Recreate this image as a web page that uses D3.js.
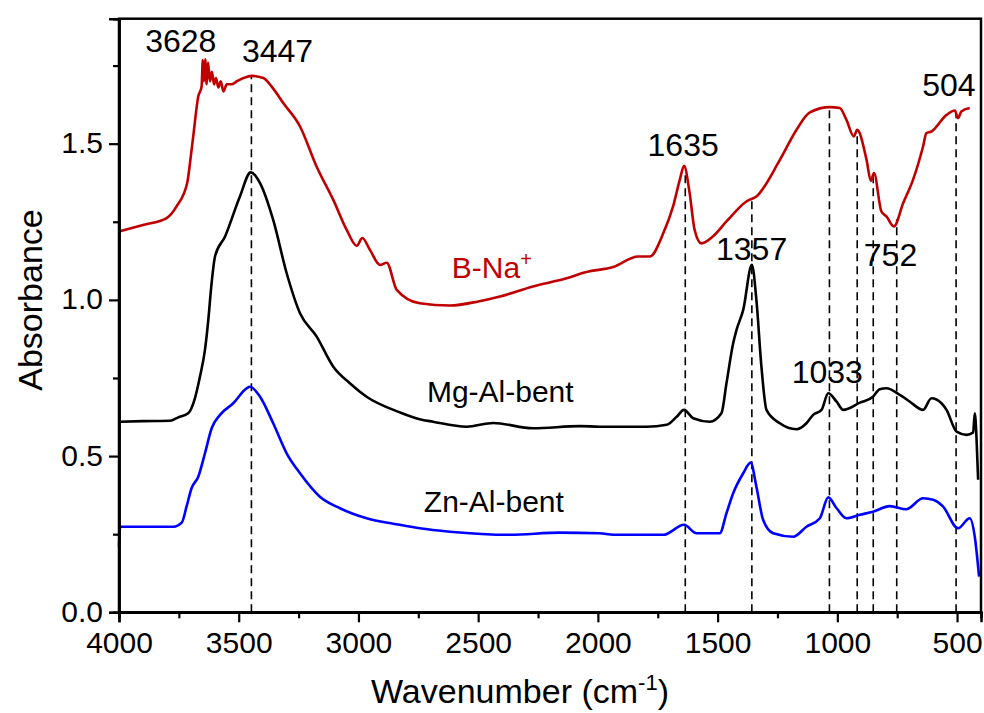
<!DOCTYPE html>
<html>
<head>
<meta charset="utf-8">
<script src="https://cdn.jsdelivr.net/npm/d3@7"></script>
<style>
  html, body { margin: 0; padding: 0; background: #fff; }
  svg text { font-family: Arial, "Liberation Sans", sans-serif; }
</style>
</head>
<body>
<svg id="chart" width="984" height="713"></svg>
<script>
// ---------- DATA ----------
const redName = "B-Na";
const blackName = "Mg-Al-bent";
const blueName = "Zn-Al-bent";

// B-Na+ spectrum: [wavenumber, absorbance]
const redData = [
  [4000,1.219],[3900,1.240],[3801,1.262],[3759,1.300],[3715,1.375],[3700,1.46],[3690,1.523],
  [3669,1.651],[3655,1.683],[3650,1.768],[3645,1.70],[3640,1.77],[3634,1.69],[3628,1.76],
  [3620,1.70],[3612,1.73],[3603,1.69],[3595,1.71],[3585,1.68],[3575,1.70],[3564,1.667],
  [3550,1.69],[3530,1.69],[3509,1.699],[3480,1.71],[3446,1.717],[3397,1.710],[3360,1.68],
  [3314,1.630],[3244,1.555],[3175,1.427],[3105,1.320],[3049,1.224],[3007,1.173],[2984,1.198],
  [2952,1.160],[2910,1.112],[2882,1.119],[2840,1.032],[2744,0.989],[2618,0.982],[2500,0.995],
  [2409,1.011],[2271,1.043],[2131,1.069],[2048,1.089],[1936,1.105],[1832,1.139],[1783,1.139],
  [1727,1.213],[1686,1.299],[1658,1.384],[1640,1.429],[1617,1.343],[1596,1.224],[1568,1.181],
  [1520,1.203],[1463,1.251],[1380,1.315],[1338,1.331],[1240,1.448],[1171,1.544],[1115,1.600],
  [1031,1.617],[990,1.614],[962,1.576],[931,1.523],[917,1.544],[878,1.448],[860,1.381],
  [847,1.406],[816,1.283],[795,1.267],[764,1.235],[725,1.310],[684,1.384],[642,1.491],
  [628,1.534],[607,1.539],[544,1.592],[509,1.606],[496,1.582],[482,1.603],[447,1.614]
];

// Mg-Al-bent spectrum
const blackData = [
  [3996,0.610],[3900,0.612],[3787,0.613],[3752,0.624],[3711,0.637],[3683,0.685],[3662,0.754],
  [3641,0.840],[3627,0.936],[3615,1.04],[3599,1.139],[3557,1.203],[3495,1.331],[3450,1.408],
  [3411,1.374],[3356,1.256],[3300,1.086],[3244,0.957],[3175,0.883],[3105,0.786],[3036,0.733],
  [2966,0.690],[2827,0.640],[2744,0.618],[2689,0.610],[2548,0.594],[2437,0.606],[2271,0.589],
  [2075,0.596],[1992,0.594],[1797,0.594],[1713,0.600],[1671,0.626],[1640,0.648],[1602,0.621],
  [1533,0.610],[1484,0.637],[1463,0.733],[1435,0.861],[1421,0.904],[1393,0.968],[1357,1.112],
  [1338,1.00],[1317,0.786],[1296,0.648],[1240,0.605],[1171,0.586],[1129,0.605],[1101,0.632],
  [1066,0.648],[1038,0.701],[1003,0.674],[975,0.648],[906,0.671],[851,0.690],[823,0.714],
  [795,0.717],[739,0.696],[697,0.674],[642,0.648],[607,0.685],[565,0.669],[544,0.648],
  [502,0.578],[461,0.568],[433,0.575],[426,0.637],[419,0.562],[412,0.424]
];

// Zn-Al-bent spectrum
const blueData = [
  [4000,0.210],[3995,0.274],[3773,0.274],[3738,0.287],[3718,0.338],[3697,0.397],[3669,0.434],
  [3641,0.509],[3613,0.589],[3578,0.632],[3523,0.669],[3467,0.717],[3453,0.722],[3411,0.690],
  [3356,0.605],[3300,0.509],[3244,0.445],[3161,0.370],[3077,0.333],[2966,0.301],[2827,0.280],
  [2744,0.269],[2618,0.258],[2368,0.248],[2159,0.255],[1992,0.253],[1936,0.248],[1727,0.248],
  [1640,0.280],[1588,0.253],[1491,0.253],[1463,0.317],[1435,0.381],[1393,0.445],[1362,0.479],
  [1338,0.402],[1310,0.296],[1268,0.253],[1184,0.242],[1129,0.274],[1073,0.301],[1038,0.368],
  [1003,0.333],[962,0.301],[906,0.312],[851,0.322],[781,0.340],[712,0.330],[642,0.365],
  [600,0.360],[558,0.338],[496,0.269],[447,0.301],[426,0.242],[408,0.114]
];

// Marked band positions (dashed guide lines)
const bandLines = [3447, 1635, 1357, 1033, 917, 850, 752, 504];

// Peak annotations: [text, wavenumber (label centre), absorbance (baseline)]
const peakLabels = [
  ["3628", 3742, 1.794], ["3447", 3338, 1.763], ["1635", 1644, 1.459],
  ["1357", 1358, 1.128], ["752", 778, 1.109], ["504", 534, 1.653], ["1033", 1042, 0.735]
];

const xTicks = [4000, 3500, 3000, 2500, 2000, 1500, 1000, 500];
const yTicks = [0.0, 0.5, 1.0, 1.5];

// ---------- LAYOUT ----------
const svg = d3.select("#chart");
const L = 119, R = 981, T = 18.7, B = 612.3;
const x = d3.scaleLinear().domain([4000, 400]).range([L, R]);
const y = d3.scaleLinear().domain([0, 1.9]).range([B, T]);

const red = "#c00000", blue = "#0000ff", black = "#000000";

// dashed guide lines from axis to red curve
const redInterp = w => {
  const asc = redData.slice().sort((a, b) => a[0] - b[0]);
  for (let i = 0; i < asc.length - 1; i++) {
    if (w >= asc[i][0] && w <= asc[i + 1][0]) {
      const t = (w - asc[i][0]) / (asc[i + 1][0] - asc[i][0]);
      return asc[i][1] + t * (asc[i + 1][1] - asc[i][1]);
    }
  }
  return asc[asc.length - 1][1];
};

svg.append("g").selectAll("line").data(bandLines).join("line")
  .attr("x1", d => x(d)).attr("x2", d => x(d))
  .attr("y1", y(0)).attr("y2", d => y(redInterp(d)))
  .attr("stroke", "#000").attr("stroke-width", 1.6)
  .attr("stroke-dasharray", "8,5");

// curves
const line = d3.line().x(d => x(d[0])).y(d => y(d[1])).curve(d3.curveMonotoneX);
const series = [[blueData, blue], [blackData, black], [redData, red]];
svg.append("g").selectAll("path").data(series).join("path")
  .attr("d", d => line(d[0]))
  .attr("fill", "none").attr("stroke", d => d[1])
  .attr("stroke-width", 2.6).attr("stroke-linejoin", "round");

// frame
svg.append("rect").attr("x", L).attr("y", T).attr("width", R - L).attr("height", B - T)
  .attr("fill", "none").attr("stroke", "#000").attr("stroke-width", 2.5);

// axes
const xMinor = d3.range(3750, 400, -500);
const yMinor = [0.25, 0.75, 1.25, 1.75];

const xAxis = svg.append("g").attr("transform", `translate(0,${B})`);
xAxis.call(d3.axisBottom(x).tickValues(xTicks).tickFormat(d3.format("d")).tickSize(10).tickPadding(9));
const xAxisMinor = svg.append("g").attr("transform", `translate(0,${B})`);
xAxisMinor.call(d3.axisBottom(x).tickValues(xMinor).tickFormat("").tickSize(6));

const yAxis = svg.append("g").attr("transform", `translate(${L},0)`);
yAxis.call(d3.axisLeft(y).tickValues(yTicks).tickFormat(d3.format(".1f")).tickSize(10).tickPadding(6));
const yAxisMinor = svg.append("g").attr("transform", `translate(${L},0)`);
yAxisMinor.call(d3.axisLeft(y).tickValues(yMinor).tickFormat("").tickSize(6));

[xAxis, xAxisMinor, yAxis, yAxisMinor].forEach(g => {
  g.select(".domain").attr("stroke-width", 2.5);
  g.selectAll(".tick line").attr("stroke-width", 2.2);
  g.selectAll(".tick text").attr("font-size", 30).attr("fill", "#000")
    .attr("font-family", "Arial, 'Liberation Sans', sans-serif");
});
yAxis.selectAll(".tick text").attr("dy", "0.3em");

// axis titles
svg.append("text").attr("x", 520).attr("y", 703).attr("text-anchor", "middle")
  .attr("font-size", 34).attr("fill", "#000")
  .html('Wavenumber (cm<tspan dy="-13" font-size="22">-1</tspan><tspan dy="13">)</tspan>');

svg.append("text").attr("transform", `translate(42,300) rotate(-90)`)
  .attr("text-anchor", "middle").attr("font-size", 34).attr("fill", "#000")
  .text("Absorbance");

// peak labels
svg.append("g").selectAll("text").data(peakLabels).join("text")
  .attr("x", d => x(d[1])).attr("y", d => y(d[2]))
  .attr("text-anchor", "middle").attr("font-size", 32).attr("fill", "#000")
  .text(d => d[0]);

// series labels
const bna = svg.append("text").attr("x", x(2610)).attr("y", y(1.070))
  .attr("font-size", 30).attr("fill", red);
bna.append("tspan").text(redName);
bna.append("tspan").attr("dy", -12).attr("font-size", 20).text("+");

svg.append("text").attr("x", x(2714)).attr("y", y(0.673))
  .attr("font-size", 30).attr("fill", "#000").text(blackName);
svg.append("text").attr("x", x(2727)).attr("y", y(0.322))
  .attr("font-size", 30).attr("fill", "#000").text(blueName);
</script>
</body>
</html>
